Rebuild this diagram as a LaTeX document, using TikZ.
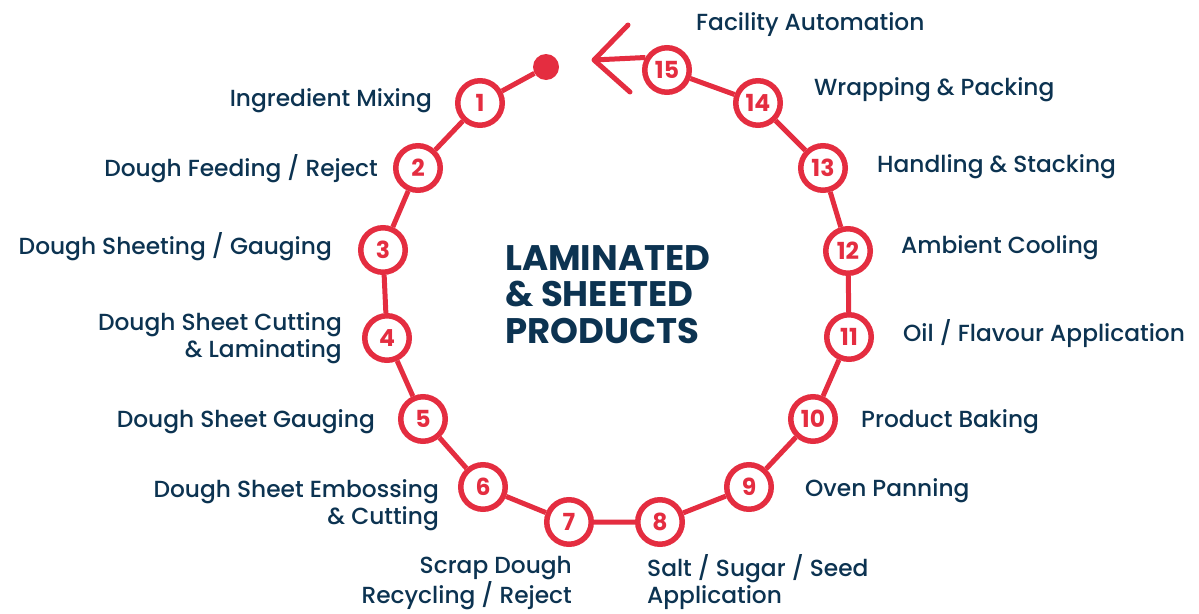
\documentclass[tikz,border=0pt]{standalone}
\usepackage{fontspec}
\setmainfont{Poppins}[UprightFont={* Medium}, BoldFont={* Bold}]
\definecolor{ringred}{HTML}{E42D40}
\definecolor{navy}{HTML}{0C3351}
\tikzset{
  stepnum/.style={circle, draw=ringred, line width=5.5pt, fill=white,
    minimum size=44.5pt, inner sep=0pt, text=ringred,
    font=\fontsize{23.5}{23.5}\selectfont\bfseries},
  steptext/.style={text=navy, inner sep=0pt,
    font=\fontsize{23.3}{26.5}\selectfont},
  ring/.style={draw=ringred, line width=5pt},
}
\begin{document}
\begin{tikzpicture}[x=1pt,y=-1pt]
  \useasboundingbox (0,0) rectangle (1199,613);

  % the fifteen steps round the ring
  \node[stepnum] (n1)  at (480,103) {1};
  \node[stepnum] (n2)  at (418,168) {2};
  \node[stepnum] (n3)  at (383,250) {3};
  \node[stepnum] (n4)  at (387,338) {4};
  \node[stepnum] (n5)  at (423,419) {5};
  \node[stepnum] (n6)  at (483,487) {6};
  \node[stepnum] (n7)  at (569,522) {7};
  \node[stepnum] (n8)  at (660,522) {8};
  \node[stepnum] (n9)  at (749,487) {9};
  \node[stepnum] (n10) at (813,419) {10};
  \node[stepnum] (n11) at (849,337) {11};
  \node[stepnum] (n12) at (848,251) {12};
  \node[stepnum] (n13) at (823,168) {13};
  \node[stepnum] (n14) at (758,103) {14};
  \node[stepnum] (n15) at (667,70) {15};

  % start dot and arrow head
  \node[circle, fill=ringred, minimum size=26pt, inner sep=0pt] (start) at (546,67) {};
  \coordinate (tip) at (594,60);
  \coordinate (armup) at (628,25);
  \coordinate (armdown) at (630,92);

  \draw[ring] (start) -- (n1) -- (n2) -- (n3) -- (n4) -- (n5) -- (n6) -- (n7) -- (n8);
  \draw[ring] (n8) -- (n9) -- (n10) -- (n11) -- (n12) -- (n13) -- (n14) -- (n15);
  \draw[ring] (n15.150) -- (tip);
  \draw[ring, line cap=round, line join=round] (armup) -- (tip) -- (armdown);

  % left side labels (two-line ones sit on their last line)
  \node[steptext, anchor=base east] (t1) at (432,106) {Ingredient Mixing};
  \node[steptext, anchor=base east] (t2) at (378,176) {Dough Feeding / Reject};
  \node[steptext, anchor=base east] (t3) at (332,254) {Dough Sheeting / Gauging};
  \node[steptext, anchor=base east, align=right] (t4) at (342,357) {Dough Sheet Cutting\\\& Laminating};
  \node[steptext, anchor=base east] (t5) at (375,427) {Dough Sheet Gauging};
  \node[steptext, anchor=base east, align=right] (t6) at (439,524) {Dough Sheet Embossing\\\& Cutting};
  \node[steptext, anchor=base east, align=right] (t7) at (572,603) {Scrap Dough\\Recycling / Reject};

  % right side labels
  \node[steptext, anchor=base west, align=left] (t8) at (647,603) {Salt / Sugar / Seed\\Application};
  \node[steptext, anchor=base west] (t9)  at (805,496) {Oven Panning};
  \node[steptext, anchor=base west] (t10) at (861,427) {Product Baking};
  \node[steptext, anchor=base west] (t11) at (903,341) {Oil / Flavour Application};
  \node[steptext, anchor=base west] (t12) at (901,253) {Ambient Cooling};
  \node[steptext, anchor=base west] (t13) at (877,172) {Handling \& Stacking};
  \node[steptext, anchor=base west] (t14) at (814,95) {Wrapping \& Packing};
  \node[steptext, anchor=base west] (t15) at (696,30) {Facility Automation};

  % title in the middle
  \node[text=navy, inner sep=0pt, anchor=base west, align=left,
    font=\fontsize{35.5}{36.5}\selectfont\bfseries] (title) at (505,343)
    {LAMINATED\\\& SHEETED\\PRODUCTS};
\end{tikzpicture}
\end{document}
